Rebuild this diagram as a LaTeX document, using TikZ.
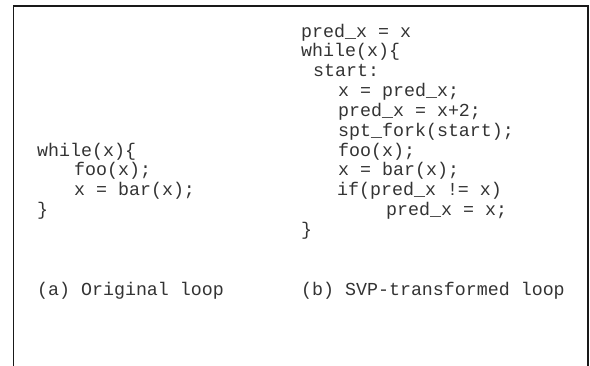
\documentclass[tikz,border=0pt]{standalone}
\usepackage{fontspec}
\newfontfamily\codefont{Liberation Mono}
\tikzset{
    code/.style={anchor=base west, inner sep=0pt, text=black!80, font=\codefont\fontsize{18.3}{19.8}\selectfont},
    frame/.style={line width=1.5pt, black!90},
}
\begin{document}
\begin{tikzpicture}[x=1pt,y=-1pt]
    \useasboundingbox (0,0) rectangle (590,365);
    \draw[frame] (13.5,366) -- (13.5,6) -- (588,6) -- (588,366);
    % original loop
    \node[code] (a1) at (37,156) {while(x)\{};
    \node[code] (a2) at (74,175.8) {foo(x);};
    \node[code] (a3) at (74,195.6) {x = bar(x);};
    \node[code] (a4) at (37,215.4) {\}};
    \node[code] (capa) at (37,295) {(a) Original loop};
    % transformed loop
    \node[code] (b1) at (301,37) {pred\_x = x};
    \node[code] (b2) at (301,56.8) {while(x)\{};
    \node[code] (b3) at (313,76.6) {start:};
    \node[code] (b4) at (338,96.4) {x = pred\_x;};
    \node[code] (b5) at (338,116.2) {pred\_x = x+2;};
    \node[code] (b6) at (338,136) {spt\_fork(start);};
    \node[code] (b7) at (338,156) {foo(x);};
    \node[code] (b8) at (338,175.8) {x = bar(x);};
    \node[code] (b9) at (337,195.6) {if(pred\_x != x)};
    \node[code] (b10) at (386,215.4) {pred\_x = x;};
    \node[code] (b11) at (301,235.2) {\}};
    \node[code] (capb) at (301,295) {(b) SVP-transformed loop};
\end{tikzpicture}
\end{document}
